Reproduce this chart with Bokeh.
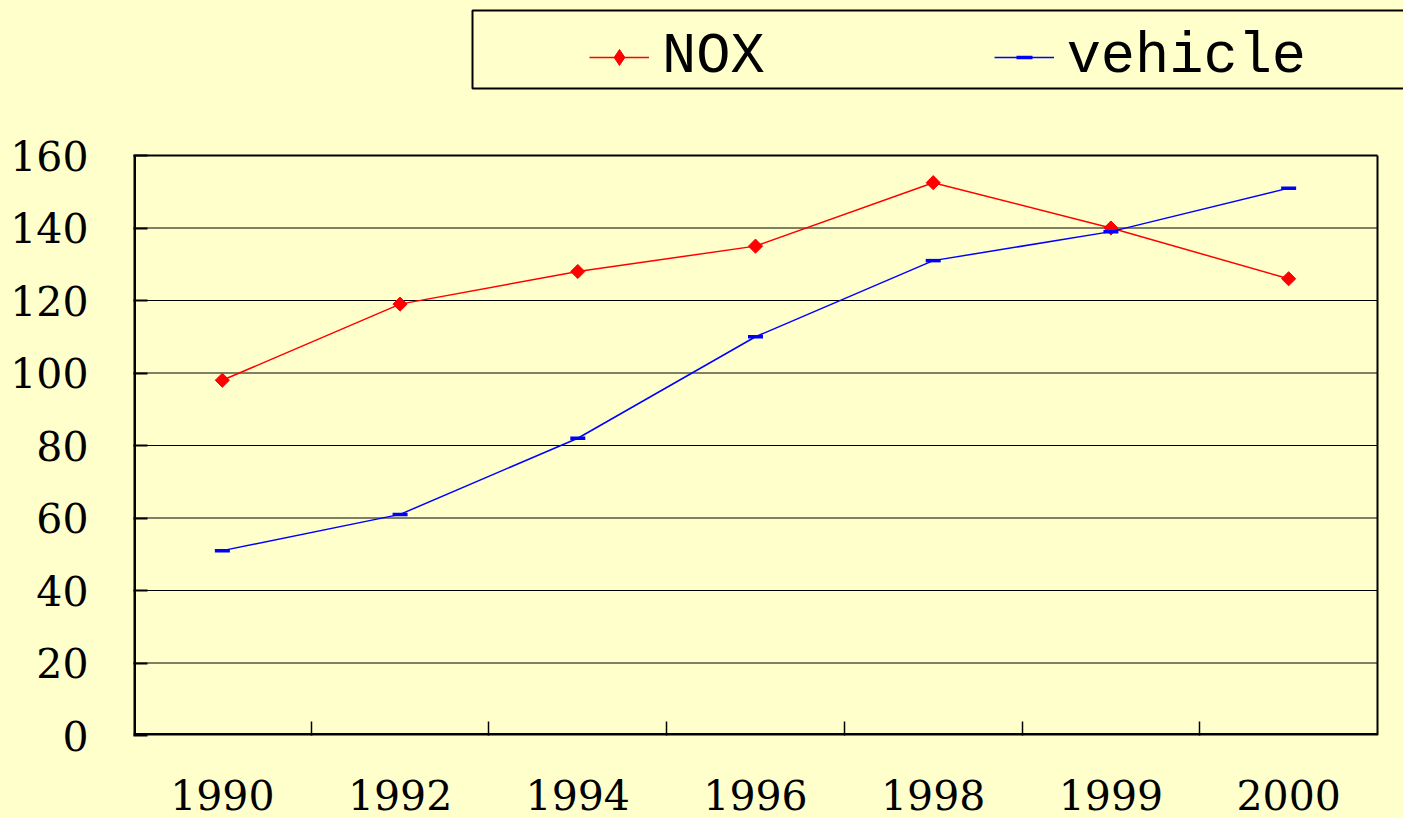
import math
import re
from bokeh.plotting import figure
from bokeh.models import FixedTicker, Legend, LegendItem, BoxAnnotation
from bokeh.embed import file_html
from bokeh.resources import INLINE

# ---- data ----
years = ["1990", "1992", "1994", "1996", "1998", "1999", "2000"]
nox = [98, 119, 128, 135, 152.5, 140, 126]
vehicle = [51, 61, 82, 110, 131, 139, 151]
y_ticks = [0, 20, 40, 60, 80, 100, 120, 140, 160]

BG = "#FFFFCC"
n = len(years)
xpos = [i + 0.5 for i in range(n)]
y_top = y_ticks[-1]

# plot area geometry (px): the data box is 1244 x 580; the frame extends
# upward and rightward so that the legend box can live inside it
FW, FH = 1270, 735
x_end = n * FW / 1244
y_end = y_top * FH / 580

p = figure(frame_width=FW, frame_height=FH,
           x_range=(0, x_end), y_range=(0, y_end),
           output_backend="svg", toolbar_location=None,
           min_border_left=133, min_border_right=0,
           min_border_top=0, min_border_bottom=83,
           background_fill_color=BG, border_fill_color=BG)
p.outline_line_color = None

# x axis
p.xaxis.ticker = FixedTicker(ticks=xpos, minor_ticks=list(range(1, n)))
p.xaxis.major_label_overrides = {x: y for x, y in zip(xpos, years)}
p.xaxis.major_tick_line_color = None
p.xaxis.major_tick_in = 0
p.xaxis.major_tick_out = 0
p.xaxis.minor_tick_in = 14
p.xaxis.minor_tick_out = 0
p.xaxis.minor_tick_line_color = "black"
p.xaxis.minor_tick_line_width = 1.5
p.xaxis.axis_line_color = None
p.xaxis.major_label_standoff = 44
p.xaxis.major_label_text_font = "DejaVu Serif"
p.xaxis.major_label_text_font_size = "41px"
p.xaxis.major_label_text_color = "black"

# y axis
p.yaxis.ticker = FixedTicker(ticks=y_ticks)
p.yaxis.minor_tick_line_color = None
p.yaxis.major_tick_in = 14
p.yaxis.major_tick_out = 0
p.yaxis.major_tick_line_color = "black"
p.yaxis.major_tick_line_width = 2
p.yaxis.axis_line_color = None
p.yaxis.major_label_standoff = 45
p.yaxis.major_label_text_font = "DejaVu Serif"
p.yaxis.major_label_text_font_size = "41px"
p.yaxis.major_label_text_color = "black"

p.xgrid.visible = False
p.ygrid.visible = False

# grid lines and plot-area border
inner = y_ticks[1:-1]
p.segment(x0=[0] * len(inner), x1=[n] * len(inner), y0=inner, y1=inner,
          line_color="black", line_width=1)
p.segment(x0=[0, n], x1=[n, n], y0=[y_top, 0], y1=[y_top, y_top],
          line_color="black", line_width=2)
# axis lines on the frame edge (half is clipped)
p.segment(x0=[0, 0], x1=[0, n], y0=[0, 0], y1=[y_top, 0],
          line_color="black", line_width=5)

# series
r1 = p.line(xpos, nox, line_color="#FF0000", line_width=1.5)
m1 = p.scatter(xpos, nox, marker="square", angle=math.pi / 4, size=10,
               fill_color="#FF0000", line_color="#FF0000")
r2 = p.line(xpos, vehicle, line_color="#0000FF", line_width=1.5)
m2 = p.scatter(xpos, vehicle, marker="dash", size=15, line_width=3.5,
               line_color="#0000FF")
# diamond used only for the legend swatch (hidden in the plot)
m1_leg = p.scatter(xpos, nox, marker="diamond", size=17, visible=False,
                   fill_color="#FF0000", line_color="#FF0000")

legend = Legend(items=[LegendItem(label="NOX", renderers=[r1, m1_leg]),
                       LegendItem(label="vehicle", renderers=[r2, m2])],
                orientation="horizontal", location=(456, 646),
                glyph_width=60, glyph_height=40, label_standoff=13,
                spacing=229, padding=10, margin=0,
                border_line_color=None, background_fill_alpha=0,
                inactive_fill_alpha=0,
                label_text_font="Liberation Mono", label_text_font_size="57px",
                label_text_color="black")
p.add_layout(legend, "center")

box = BoxAnnotation(left=472, right=1420, top=10, bottom=88,
                    left_units="canvas", right_units="canvas",
                    top_units="canvas", bottom_units="canvas",
                    fill_alpha=0, line_color="black", line_width=2, line_alpha=1)
p.add_layout(box)

html = file_html(p, INLINE)
html = re.sub(r"<head>", "<head><style>html,body{background-color:#FFFFCC;}</style>", html, count=1)
open("out.html", "w").write(html)
